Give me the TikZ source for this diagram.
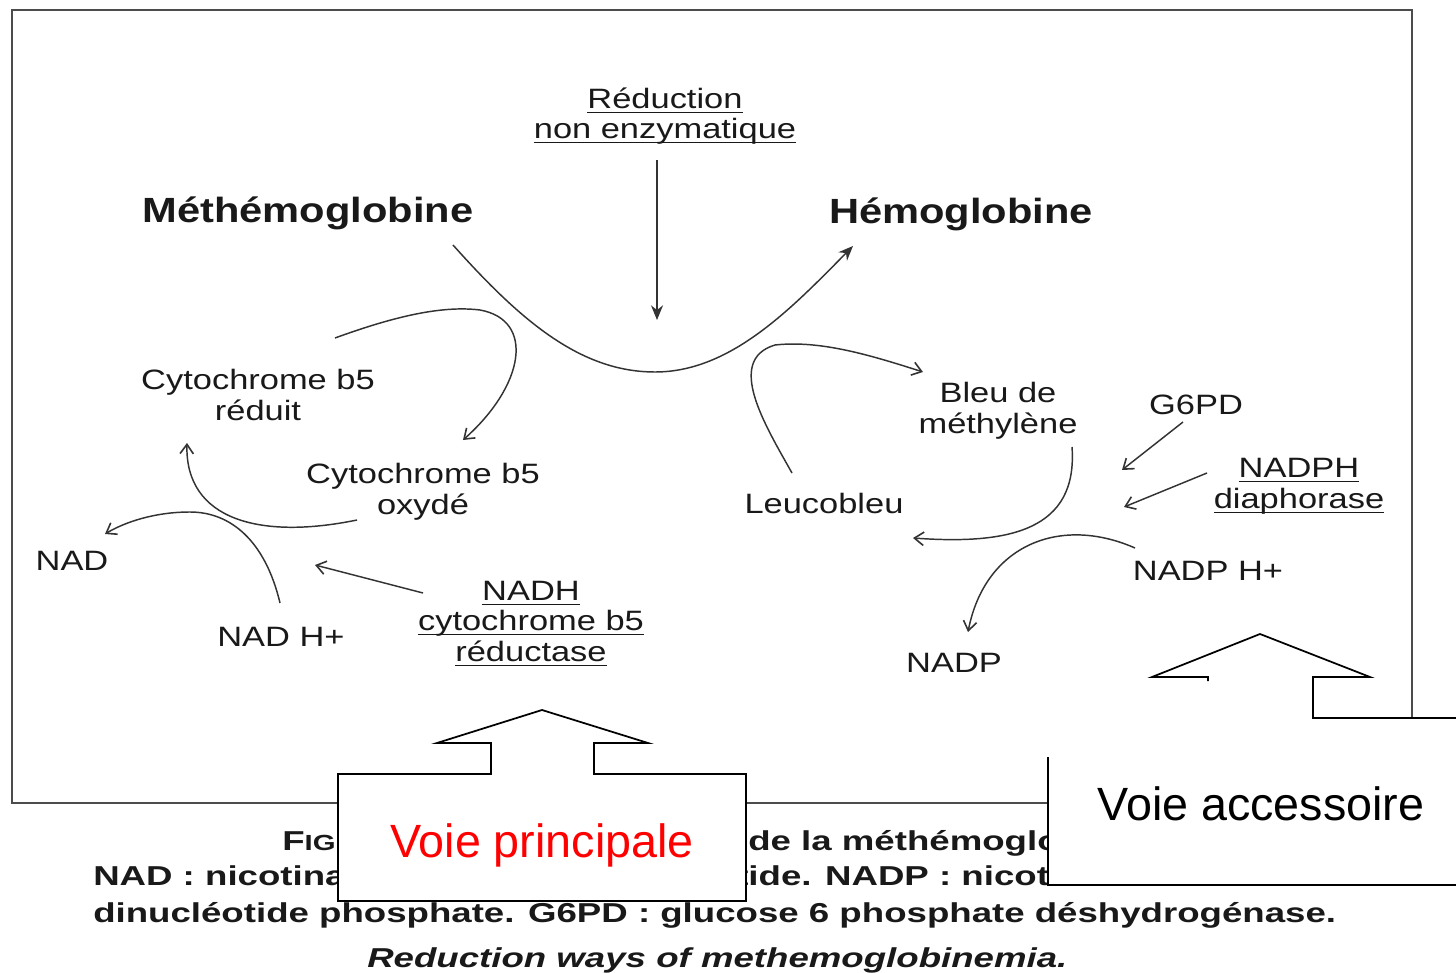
\documentclass[tikz,border=0pt]{standalone}
\usepackage{amsmath}
\usepackage{fontspec}
\usepackage{tikz}
\usetikzlibrary{arrows.meta}
\newfontfamily\etiqfont[FakeStretch=1.23]{Liberation Sans}
\newfontfamily\titrefont[FakeStretch=1.19]{Liberation Sans}
\newfontfamily\legfont[FakeStretch=1.34]{Liberation Sans}
\newfontfamily\bullefont{Liberation Sans}
\newcommand{\souligne}[1]{\underline{\smash[b]{#1}}}

\begin{document}
\begin{tikzpicture}[x=0.75pt,y=0.75pt,yscale=-1,xscale=1,
  txt/.style={inner sep=0.75pt, align=center, text=black!90, font=\etiqfont\fontsize{21}{23}\selectfont},
  gras/.style={inner sep=0.75pt, anchor=base, text=black!90, font=\titrefont\bfseries\fontsize{26.25}{30}\selectfont},
  leg/.style={anchor=base west, inner sep=0pt, text=black!90, font=\legfont\bfseries\fontsize{20.5}{27}\selectfont},
  trait/.style={draw=black!80, line width=1.1pt},
  barbe/.style={trait, -{Straight Barb[length=7pt,width=10pt,line width=1.2pt]}},
  pleine/.style={trait, -{Stealth[length=11pt,width=9pt]}},
  bulle/.style={draw=black, line width=1.3pt, fill=white},
  bulletxt/.style={anchor=base, inner sep=0pt, font=\bullefont\fontsize{35}{40}\selectfont}]
\useasboundingbox (0,0) rectangle (1456,973);
\fill [white] (0,0) rectangle (1456,973);

%Shape: Rectangle [cadre du schema]
\draw [draw=black!70, line width=1.4pt] (12,10) rectangle (1412,803);

% Text Node
\draw (665,116) node (redn) [txt] {\souligne{Réduction}\\\souligne{non enzymatique}};
% Text Node
\draw (308,223) node (methb) [gras] {Méthémoglobine};
% Text Node
\draw (961,224) node (hb) [gras] {Hémoglobine};
% Text Node
\draw (258,395) node (cytred) [txt] {Cytochrome b5\\réduit};
% Text Node
\draw (423,492) node (cytox) [txt] {Cytochrome b5\\oxydé};
% Text Node
\draw (72,570) node (nad) [txt, anchor=base] {NAD};
% Text Node
\draw (281,646) node (nadh) [txt, anchor=base] {NAD H+};
% Text Node
\draw (531,624) node (reduct) [txt] {\souligne{NADH}\\\souligne{cytochrome b5}\\\souligne{réductase}};
% Text Node
\draw (998,411) node (bleu) [txt] {Bleu de\\méthylène};
% Text Node
\draw (1196,414) node (gpd) [txt, anchor=base] {G6PD};
% Text Node
\draw (1299,486) node (diaph) [txt] {\souligne{NADPH}\\\souligne{diaphorase}};
% Text Node
\draw (824,513) node (leuco) [txt, anchor=base] {Leucobleu};
% Text Node
\draw (1208,580) node (nadph) [txt, anchor=base] {NADP H+};
% Text Node
\draw (954,672) node (nadp) [txt, anchor=base] {NADP};

% extremites des fleches
\coordinate (vrA) at (657,160); \coordinate (vrB) at (657,320);
\coordinate (metA) at (453,245); \coordinate (hbA) at (853,246);
\coordinate (cyA) at (335,338); \coordinate (cyB) at (463,440);
\coordinate (oxA) at (357,520); \coordinate (redB) at (187,443);
\coordinate (nhA) at (280,603); \coordinate (nadB) at (105,534);
\coordinate (rdA) at (423,593); \coordinate (rdB) at (315,565);
\coordinate (leA) at (792,473); \coordinate (blB) at (923,372);
\coordinate (blA) at (1072,447); \coordinate (leB) at (913,538);
\coordinate (npA) at (1135,548); \coordinate (ndB) at (968,632);
\coordinate (gpA) at (1183,422); \coordinate (gpB) at (1122,470);
\coordinate (dpA) at (1207,473); \coordinate (dpB) at (1124,507);

%Straight Lines [reduction non enzymatique]
\draw [pleine] (vrA) -- (vrB);
%Curve Lines [methemoglobine -> hemoglobine]
\draw [pleine] (metA) .. controls (520,320) and (580,372) .. (655,372) .. controls (730,372) and (790,310) .. (hbA);
%Curve Lines [cytochrome b5]
\draw [barbe] (cyA) .. controls (390,318) and (440,305) .. (480,310) .. controls (535,320) and (525,385) .. (cyB);
\draw [barbe] (oxA) .. controls (260,540) and (185,520) .. (redB);
\draw [barbe] (nhA) .. controls (265,540) and (230,512) .. (190,512) .. controls (155,512) and (125,522) .. (nadB);
\draw [barbe] (rdA) -- (rdB);
%Curve Lines [bleu de methylene]
\draw [barbe] (leA) .. controls (765,425) and (725,360) .. (775,345) .. controls (820,340) and (870,355) .. (blB);
\draw [barbe] (blA) .. controls (1078,530) and (1010,545) .. (leB);
\draw [barbe] (npA) .. controls (1060,515) and (985,545) .. (ndB);
\draw [barbe] (gpA) -- (gpB);
\draw [barbe] (dpA) -- (dpB);

% Legende
\draw (282,850) node (fig) [leg] {{\fontsize{20.5}{27}\selectfont F}{\fontsize{16.4}{27}\selectfont IG.}};
\draw (748,850) node (leg1) [leg] {de la méthémoglobine};
\draw (93,885) node (leg2a) [leg] {NAD : nicotinamide};
\draw (736,885) node (leg2b) [leg] {tide. NADP : nicotinamide adénine};
\draw (93,922) node (leg3) [leg] {dinucléotide phosphate. G6PD : glucose 6 phosphate déshydrogénase.};
\draw (367,967) node (leg4) [leg, font=\legfont\bfseries\itshape\fontsize{20.5}{27}\selectfont] {Reduction ways of methemoglobinemia.};

%Shape: Up Arrow Callout [voie principale]
\draw [bulle] (338,774) -- (491,774) -- (491,743) -- (437,743) -- (542,710) -- (648,743) -- (594,743) -- (594,774) -- (746,774) -- (746,901) -- (338,901) -- cycle;
\draw (542,857) node (vprinc) [bulletxt, text=red] {Voie principale};

%Shape: Up Arrow Callout [voie accessoire]
\fill [white] (1048,718) -- (1208,718) -- (1208,677) -- (1152,677) -- (1260,634) -- (1370,677) -- (1313,677) -- (1313,718) -- (1456,718) -- (1456,885) -- (1048,885) -- cycle;
\draw [line width=1.3pt] (1208,681) -- (1208,677) -- (1152,677) -- (1260,634) -- (1370,677) -- (1313,677) -- (1313,718) -- (1460,718);
\draw [line width=1.3pt] (1048,757) -- (1048,885) -- (1460,885);
\draw (1261,820) node (vacc) [bulletxt] {Voie accessoire};
\end{tikzpicture}
\end{document}
